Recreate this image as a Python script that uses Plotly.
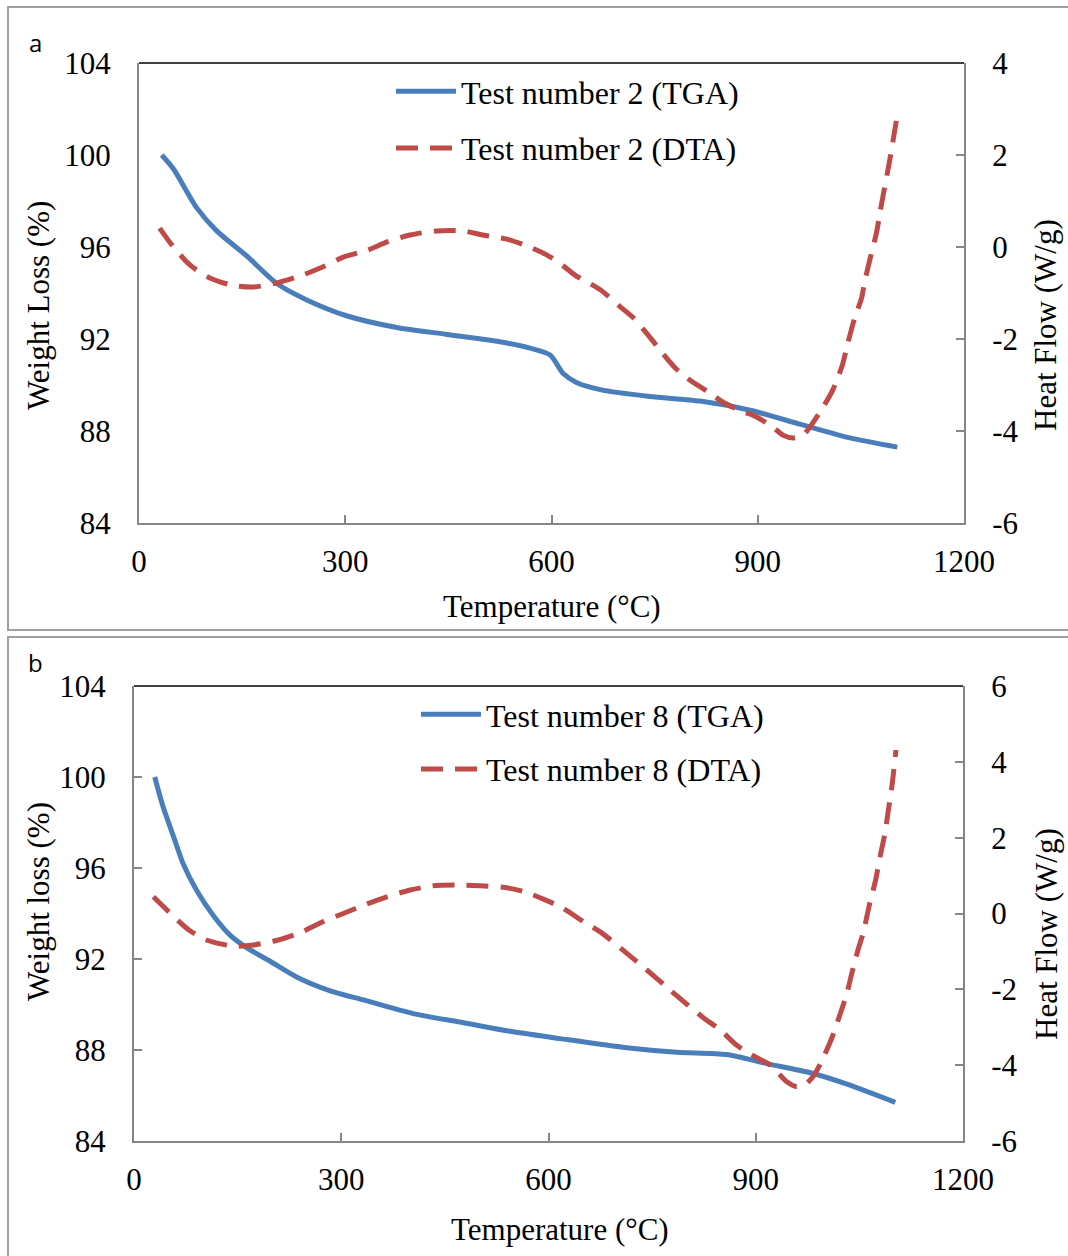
import plotly.graph_objects as go

W, H = 1068, 1256

# ---------------- Panel a data (Test number 2) ----------------
temp_tga_a = [33, 50, 84, 113, 157, 201, 244, 303, 375, 448, 521, 569, 598, 617, 637,
              671, 743, 816, 889, 961, 1034, 1103]
tga_a = [100.0, 99.4, 97.7, 96.7, 95.6, 94.4, 93.7, 93.0, 92.5, 92.2, 91.9, 91.6, 91.3,
         90.5, 90.1, 89.8, 89.5, 89.3, 88.9, 88.3, 87.7, 87.3]

temp_dta_a = [30, 48, 74, 100, 135, 166, 201, 234, 268, 297, 332, 361, 394, 433, 471,
              500, 535, 561, 593, 617, 634, 671, 700, 719, 743, 761, 780, 801, 828, 849,
              879, 892, 918, 937, 952, 966, 976, 995, 1009, 1023, 1031, 1041, 1051, 1056,
              1063, 1073, 1078, 1092, 1103]
dta_a = [0.41, 0.04, -0.39, -0.65, -0.83, -0.87, -0.78, -0.63, -0.43, -0.22, -0.07, 0.11,
         0.26, 0.35, 0.35, 0.26, 0.17, 0.04, -0.17, -0.41, -0.61, -0.93, -1.30, -1.54,
         -1.96, -2.30, -2.63, -2.89, -3.15, -3.37, -3.59, -3.65, -3.87, -4.09, -4.15,
         -4.09, -3.91, -3.48, -3.11, -2.57, -2.09, -1.54, -1.11, -0.72, -0.28, 0.33, 0.77,
         1.89, 2.87]

# ---------------- Panel b data (Test number 8) ----------------
temp_tga_b = [30, 42, 57, 71, 91, 115, 139, 163, 197, 236, 284, 332, 404, 477, 549, 617,
              713, 786, 858, 916, 979, 1032, 1102]
tga_b = [100.0, 98.7, 97.4, 96.2, 95.0, 93.9, 93.05, 92.5, 91.9, 91.2, 90.6, 90.2, 89.6,
         89.2, 88.8, 88.5, 88.1, 87.9, 87.8, 87.4, 87.0, 86.5, 85.7]

temp_dta_b = [28, 50, 79, 105, 144, 173, 209, 240, 274, 303, 337, 366, 400, 433, 472, 501,
              535, 564, 595, 621, 650, 677, 706, 728, 754, 776, 800, 827, 848, 872, 894,
              921, 945, 959, 971, 983, 995, 1010, 1020, 1032, 1039, 1048, 1056, 1065, 1073,
              1080, 1087, 1092, 1097, 1103]
dta_b = [0.44, 0.05, -0.43, -0.70, -0.86, -0.83, -0.70, -0.51, -0.21, 0.0, 0.25, 0.44,
         0.62, 0.73, 0.75, 0.73, 0.69, 0.58, 0.36, 0.14, -0.21, -0.51, -0.94, -1.27, -1.67,
         -2.02, -2.39, -2.79, -3.06, -3.47, -3.73, -4.00, -4.44, -4.57, -4.52, -4.30, -3.91,
         -3.29, -2.77, -2.10, -1.58, -0.96, -0.48, 0.27, 0.84, 1.50, 2.12, 2.73, 3.34, 4.31]

x_ticks = [0, 300, 600, 900, 1200]
wt_ticks = [84, 88, 92, 96, 100, 104]
hf_ticks_a = [-6, -4, -2, 0, 2, 4]
hf_ticks_b = [-6, -4, -2, 0, 2, 4, 6]
hf_text_a = [str(v) for v in hf_ticks_a]
hf_text_b = [str(v) for v in hf_ticks_b]

BLUE = "#4A7EBB"
RED = "#BE4B48"
GRAY = "#868686"
SERIF = "Liberation Serif, Times New Roman, serif"
FS = 31
LW = 5
DASH = "22px,12px"


def px(xp):
    return xp / W


def py(yp):
    return 1 - yp / H


fig = go.Figure()

fig.add_trace(go.Scatter(x=temp_tga_a, y=tga_a, xaxis="x", yaxis="y", mode="lines",
                         name="Test number 2 (TGA)", legend="legend", legendgroup="a1",
                         line=dict(color=BLUE, width=LW, shape="spline", smoothing=0.7)))
fig.add_trace(go.Scatter(x=temp_dta_a, y=dta_a, xaxis="x", yaxis="y2", mode="lines",
                         name="Test number 2 (DTA)", legend="legend", legendgroup="a2",
                         line=dict(color=RED, width=LW, dash=DASH, shape="spline",
                                   smoothing=0.7)))
fig.add_trace(go.Scatter(x=temp_tga_b, y=tga_b, xaxis="x2", yaxis="y3", mode="lines",
                         name="Test number 8 (TGA)", legend="legend2", legendgroup="b1",
                         line=dict(color=BLUE, width=LW, shape="spline", smoothing=0.7)))
fig.add_trace(go.Scatter(x=temp_dta_b, y=dta_b, xaxis="x2", yaxis="y4", mode="lines",
                         name="Test number 8 (DTA)", legend="legend2", legendgroup="b2",
                         line=dict(color=RED, width=LW, dash=DASH, shape="spline",
                                   smoothing=0.7)))

tickfont = dict(family=SERIF, size=FS, color="black")
common_x = dict(range=[0, 1200], tickvals=x_ticks, ticks="inside", ticklen=8, tickwidth=1.5,
                tickcolor=GRAY, showline=True, linecolor=GRAY, linewidth=2, showgrid=False,
                zeroline=False, tickfont=tickfont, ticklabelstandoff=10, automargin=False)
common_y = dict(showline=True, linecolor=GRAY, linewidth=2, showgrid=False, zeroline=False,
                tickfont=tickfont, tickwidth=1.5, tickcolor=GRAY, ticklen=8, automargin=False)

fig.update_layout(
    width=W, height=H, margin=dict(l=0, r=0, t=0, b=0, autoexpand=False),
    paper_bgcolor="white", plot_bgcolor="white",
    xaxis=dict(domain=[px(139), px(964)], anchor="y", **common_x),
    yaxis=dict(domain=[py(523), py(63)], anchor="x", range=[84, 104], tickvals=wt_ticks,
               ticks="", ticklabelstandoff=20, **common_y),
    yaxis2=dict(overlaying="y", side="right", anchor="x", range=[-6, 4], tickvals=hf_ticks_a,
                ticktext=hf_text_a, ticks="inside", ticklabelstandoff=20, **common_y),
    xaxis2=dict(domain=[px(134), px(963)], anchor="y3", **common_x),
    yaxis3=dict(domain=[py(1141), py(686)], anchor="x2", range=[84, 104], tickvals=wt_ticks,
                ticks="inside", ticklabelstandoff=20, **common_y),
    yaxis4=dict(overlaying="y3", side="right", anchor="x2", range=[-6, 6], tickvals=hf_ticks_b,
                ticktext=hf_text_b, ticks="inside", ticklabelstandoff=20, **common_y),
    legend=dict(x=px(391), y=py(64), xanchor="left", yanchor="top", bgcolor="rgba(0,0,0,0)",
                font=dict(family=SERIF, size=32, color="black"), itemwidth=60,
                tracegroupgap=12, traceorder="grouped"),
    legend2=dict(x=px(416), y=py(687), xanchor="left", yanchor="top", bgcolor="rgba(0,0,0,0)",
                 font=dict(family=SERIF, size=32, color="black"), itemwidth=60,
                 tracegroupgap=10, traceorder="grouped"),
    showlegend=True,
)

shapes = [
    # outer panel frames
    dict(type="rect", xref="paper", yref="paper", x0=px(8), x1=1.02, y0=py(630), y1=py(7),
         line=dict(color="#A0A0A0", width=2)),
    dict(type="rect", xref="paper", yref="paper", x0=px(8), x1=1.02, y0=-0.02, y1=py(637),
         line=dict(color="#A0A0A0", width=2)),
    # top borders of plot areas
    dict(type="line", xref="paper", yref="paper", x0=px(139), x1=px(964), y0=py(63), y1=py(63),
         line=dict(color="black", width=1.5)),
    dict(type="line", xref="paper", yref="paper", x0=px(134), x1=px(963), y0=py(686), y1=py(686),
         line=dict(color="black", width=1.5)),
]
fig.update_layout(shapes=shapes)

ann_font = dict(family=SERIF, size=FS, color="black")
label_font = dict(family="Open Sans, sans-serif", size=24, color="black")


def ann(text, x, y, font, angle=0):
    return dict(text=text, x=px(x), y=py(y), xref="paper", yref="paper", showarrow=False,
                xanchor="center", yanchor="middle", textangle=angle, font=font)


annotations = [
    ann("a", 35, 42, label_font),
    ann("b", 35, 662, label_font),
    ann("Weight Loss (%)", 38, 306, ann_font, -90),
    ann("Heat Flow (W/g)", 1046, 325, ann_font, -90),
    ann("Temperature (°C)", 552, 606, ann_font),
    ann("Weight loss (%)", 38, 902, ann_font, -90),
    ann("Heat Flow (W/g)", 1046, 934, ann_font, -90),
    ann("Temperature (°C)", 560, 1229, ann_font),
]
fig.update_layout(annotations=annotations)

fig.write_html("out.html")
